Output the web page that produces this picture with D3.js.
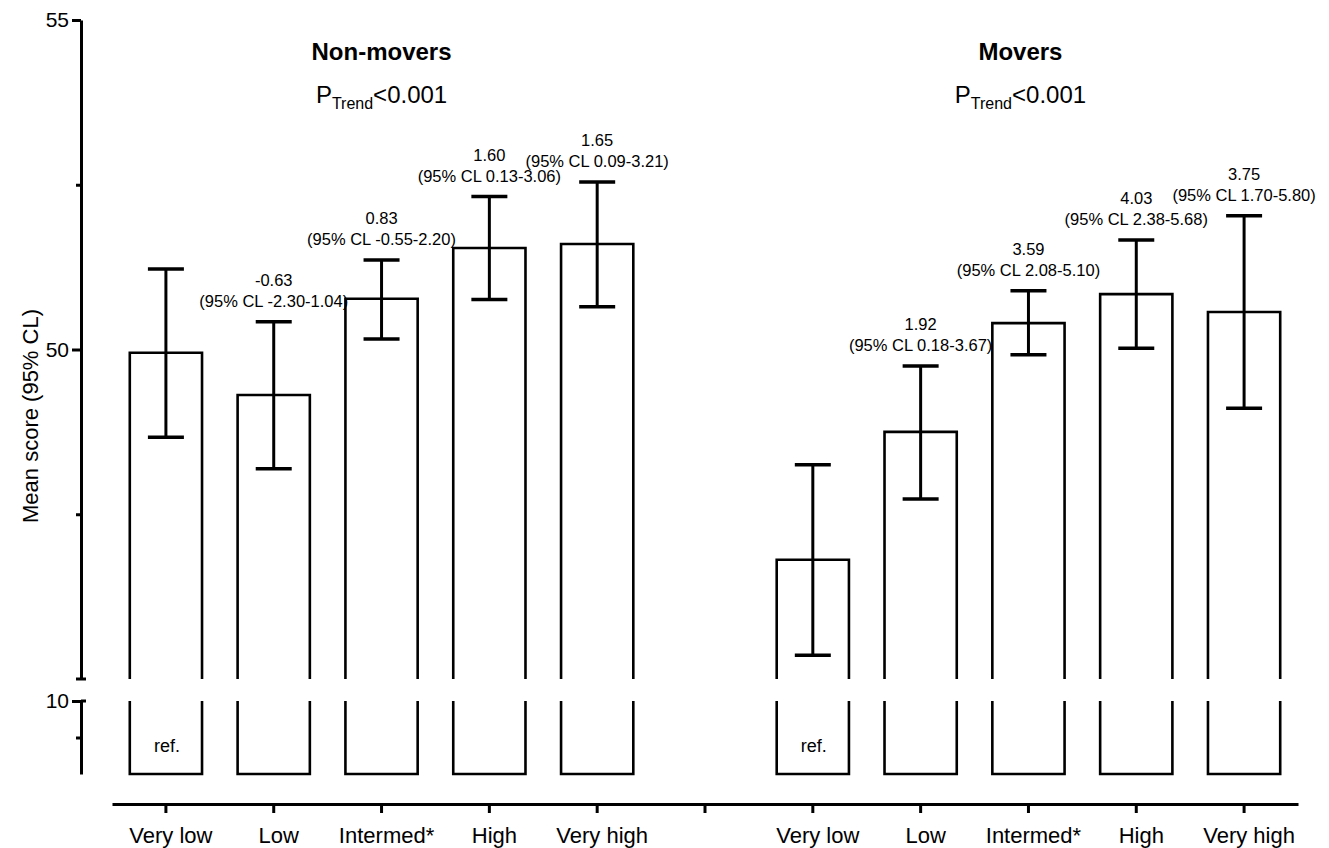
<!DOCTYPE html>
<html>
<head>
<meta charset="utf-8">
<script src="https://cdn.jsdelivr.net/npm/d3@7"></script>
<style>
  body { margin: 0; background: #fff; }
  text { font-family: "Liberation Sans", Arial, sans-serif; fill: #000; }
</style>
</head>
<body>
<div id="chart"></div>
<script>
// categories and groups
var categories = ["Very low", "Low", "Intermed*", "High", "Very high"];
var groups = ["Non-movers", "Movers"];

// mean score and 95% CL
var nonMoversMean  = [49.95, 49.31, 50.77, 51.54, 51.60];
var nonMoversLower = [48.67, 48.19, 50.16, 50.76, 50.65];
var nonMoversUpper = [51.22, 50.42, 51.36, 52.32, 52.54];
var moversMean  = [46.81, 48.75, 50.40, 50.84, 50.57];
var moversLower = [45.36, 47.73, 49.92, 50.02, 49.11];
var moversUpper = [48.25, 49.75, 50.89, 51.66, 52.03];

// differences vs reference category
var nonMoversDiff = ["", "-0.63", "0.83", "1.60", "1.65"];
var nonMoversCL = ["", "(95% CL -2.30-1.04)", "(95% CL -0.55-2.20)", "(95% CL 0.13-3.06)", "(95% CL 0.09-3.21)"];
var moversDiff = ["", "1.92", "3.59", "4.03", "3.75"];
var moversCL = ["", "(95% CL 0.18-3.67)", "(95% CL 2.08-5.10)", "(95% CL 2.38-5.68)", "(95% CL 1.70-5.80)"];

var pTrend = ["<0.001", "<0.001"];

// y axis: two segments
var topTicks = [50, 55];
var topMinor = [47.5, 52.5];
var botTicks = [10];
var botMinor = [5];

var width = 1329, height = 848;

var svg = d3.select("#chart").append("svg")
  .attr("width", width)
  .attr("height", height);

var axisX = 81;

var yTop = d3.scaleLinear().domain([45, 55]).range([679, 20]);
var yBot = d3.scaleLinear().domain([0, 10]).range([774, 701]);

// build slots: 5 non-movers, a gap, 5 movers
var slots = [];
categories.forEach(function(c, i) { slots.push("N" + i); });
slots.push("gap");
categories.forEach(function(c, i) { slots.push("M" + i); });

var x = d3.scaleBand()
  .domain(slots)
  .range([112, 1298])
  .paddingInner(0.33)
  .paddingOuter(0.165);

// rows of data
var rows = [];
categories.forEach(function(c, i) {
  rows.push({ slot: "N" + i, cat: c, mean: nonMoversMean[i], lo: nonMoversLower[i], hi: nonMoversUpper[i],
              diff: nonMoversDiff[i], cl: nonMoversCL[i], ref: i === 0 });
});
categories.forEach(function(c, i) {
  rows.push({ slot: "M" + i, cat: c, mean: moversMean[i], lo: moversLower[i], hi: moversUpper[i],
              diff: moversDiff[i], cl: moversCL[i], ref: i === 0 });
});

// y axis upper segment
var gTop = svg.append("g").attr("transform", "translate(" + axisX + ",0)");
gTop.call(d3.axisLeft(yTop).tickValues(topTicks).tickSize(9).tickSizeOuter(0).tickPadding(3));
gTop.append("g").call(d3.axisLeft(yTop).tickValues(topMinor).tickSize(5).tickSizeOuter(0).tickFormat(""))
  .select(".domain").remove();

// y axis lower segment
var gBot = svg.append("g").attr("transform", "translate(" + axisX + ",0)");
gBot.call(d3.axisLeft(yBot).tickValues(botTicks).tickSize(9).tickSizeOuter(0).tickPadding(3));
gBot.append("g").call(d3.axisLeft(yBot).tickValues(botMinor).tickSize(5).tickSizeOuter(0).tickFormat(""))
  .select(".domain").remove();

// break caps
svg.append("line").attr("x1", axisX - 5).attr("x2", axisX + 5)
  .attr("y1", yTop(45)).attr("y2", yTop(45));
svg.append("line").attr("x1", axisX).attr("x2", axisX + 5)
  .attr("y1", yBot(10)).attr("y2", yBot(10));

svg.selectAll(".tick text").style("font-size", "21px");
svg.selectAll(".domain, .tick line, svg > line")
  .attr("stroke", "#000").attr("stroke-width", 3);

// y title
svg.append("text")
  .attr("transform", "translate(38,416) rotate(-90)")
  .attr("text-anchor", "middle")
  .style("font-size", "22px")
  .text("Mean score (95% CL)");

// x axis
var labelOf = {};
rows.forEach(function(d) { labelOf[d.slot] = d.cat; });
var gx = svg.append("g").attr("transform", "translate(0,804)")
  .call(d3.axisBottom(x).tickSize(9).tickSizeOuter(0).tickPadding(14)
    .tickFormat(function(s) { return labelOf[s] || ""; }));
gx.selectAll(".domain, .tick line").attr("stroke", "#000").attr("stroke-width", 3);
gx.selectAll(".tick text").style("font-size", "22px").attr("dx", 5);

// bars (broken at the axis gap)
var bars = svg.append("g").attr("fill", "none").attr("stroke", "#000").attr("stroke-width", 2.6);
bars.selectAll(".bar-top").data(rows).enter().append("path")
  .attr("d", function(d) {
    var l = x(d.slot), r = l + x.bandwidth();
    return "M" + l + "," + yTop(45) + "V" + yTop(d.mean) + "H" + r + "V" + yTop(45);
  });
bars.selectAll(".bar-bot").data(rows).enter().append("path")
  .attr("d", function(d) {
    var l = x(d.slot), r = l + x.bandwidth();
    return "M" + l + "," + yBot(10) + "V" + yBot(0) + "H" + r + "V" + yBot(10);
  });

// error bars
var err = svg.append("g").attr("stroke", "#000");
var capHalf = 18;
err.selectAll(".stem").data(rows).enter().append("line")
  .attr("x1", function(d) { return x(d.slot) + x.bandwidth() / 2; })
  .attr("x2", function(d) { return x(d.slot) + x.bandwidth() / 2; })
  .attr("y1", function(d) { return yTop(d.lo); })
  .attr("y2", function(d) { return yTop(d.hi); })
  .attr("stroke-width", 3);
["lo", "hi"].forEach(function(k) {
  err.selectAll(".cap-" + k).data(rows).enter().append("line")
    .attr("x1", function(d) { return x(d.slot) + x.bandwidth() / 2 - capHalf; })
    .attr("x2", function(d) { return x(d.slot) + x.bandwidth() / 2 + capHalf; })
    .attr("y1", function(d) { return yTop(d[k]); })
    .attr("y2", function(d) { return yTop(d[k]); })
    .attr("stroke-width", 3.5);
});

// difference labels
var ann = svg.append("g").attr("text-anchor", "middle").style("font-size", "16.5px");
rows.filter(function(d) { return d.diff; }).forEach(function(d) {
  var cx = x(d.slot) + x.bandwidth() / 2;
  ann.append("text").attr("x", cx).attr("y", yTop(d.hi) - 36).text(d.diff);
  ann.append("text").attr("x", cx).attr("y", yTop(d.hi) - 15).text(d.cl);
});

// ref. labels
svg.selectAll(".ref").data(rows.filter(function(d) { return d.ref; })).enter().append("text")
  .attr("x", function(d) { return x(d.slot) + x.bandwidth() / 2 + 1; })
  .attr("y", yBot(0) - 22)
  .attr("text-anchor", "middle")
  .style("font-size", "18px")
  .text("ref.");

// group titles
groups.forEach(function(g, gi) {
  var cx = x((gi === 0 ? "N" : "M") + 2) + x.bandwidth() / 2 - (gi === 0 ? 0 : 8);
  svg.append("text")
    .attr("x", cx).attr("y", 60)
    .attr("text-anchor", "middle")
    .style("font-size", "24px").style("font-weight", "bold")
    .text(g);
  var t = svg.append("text")
    .attr("x", cx).attr("y", 103)
    .attr("text-anchor", "middle")
    .style("font-size", "24px");
  t.append("tspan").text("P");
  t.append("tspan").attr("dy", 6).style("font-size", "16px").text("Trend");
  t.append("tspan").attr("dy", -6).text(pTrend[gi]);
});
</script>
</body>
</html>
